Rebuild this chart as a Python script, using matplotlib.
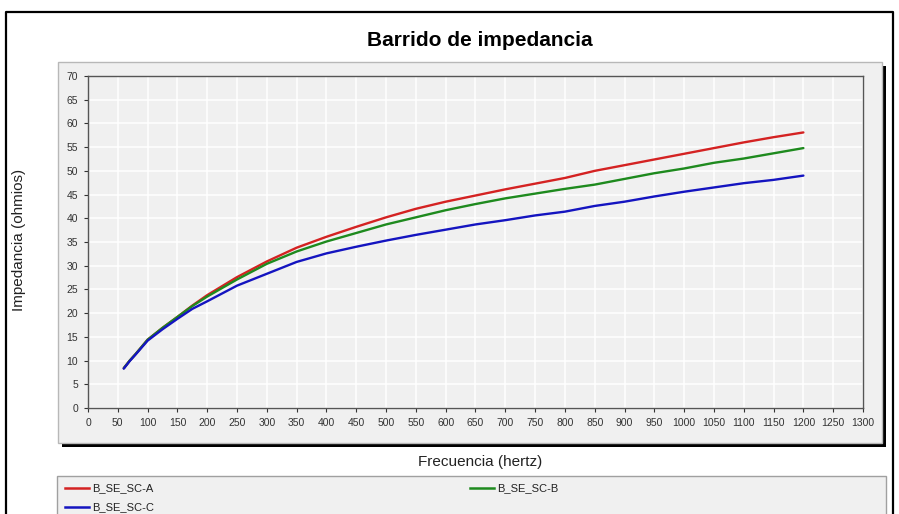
import matplotlib
matplotlib.use("Agg")
import matplotlib.pyplot as plt
from matplotlib.patches import Rectangle
from matplotlib.lines import Line2D

W, H = 899, 514

# Frequency sweep (Hz) and impedance (ohm) per phase
freq = [60, 70, 80, 100, 125, 150, 175, 200, 250, 300, 350, 400, 450, 500, 550, 600,
        650, 700, 750, 800, 850, 900, 950, 1000, 1050, 1100, 1150, 1200]
z_a = [8.4, 10.0, 11.4, 14.4, 16.9, 19.2, 21.6, 23.8, 27.6, 30.9, 33.8, 36.1, 38.2,
       40.2, 42.0, 43.5, 44.8, 46.1, 47.3, 48.5, 50.0, 51.2, 52.4, 53.6, 54.8,
       56.0, 57.1, 58.1]
z_b = [8.4, 10.0, 11.4, 14.4, 16.9, 19.2, 21.5, 23.5, 27.1, 30.4, 33.0, 35.1, 36.9,
       38.7, 40.2, 41.7, 43.0, 44.2, 45.2, 46.2, 47.1, 48.3, 49.5, 50.5, 51.7,
       52.6, 53.7, 54.8]
z_c = [8.3, 9.9, 11.3, 14.2, 16.6, 18.8, 20.9, 22.5, 25.8, 28.3, 30.8, 32.6, 34.0,
       35.3, 36.5, 37.6, 38.7, 39.6, 40.6, 41.4, 42.6, 43.5, 44.6, 45.6, 46.5,
       47.4, 48.1, 49.0]

series_names = ["B_SE_SC-A", "B_SE_SC-B", "B_SE_SC-C"]
series_colors = ["#d42222", "#1e8a1e", "#1414c0"]

x_ticks = list(range(0, 1301, 50))
y_ticks = list(range(0, 71, 5))

PANEL = "#f0f0f0"
NARROW = ["Liberation Sans Narrow", "Liberation Sans", "DejaVu Sans"]
SANS = ["Liberation Sans", "DejaVu Sans"]


def px(x, y):
    """pixel (from top-left) -> figure fraction"""
    return x / W, 1 - y / H


fig = plt.figure(figsize=(W / 100, H / 100), dpi=100, facecolor="white")

# outer frame
x0, y0 = px(6, 12)
x1, y1 = px(893, 520)
fig.add_artist(Line2D([x0, x0, x1, x1], [y1, y0, y0, y1], color="black", lw=1.6,
                      transform=fig.transFigure, zorder=-2))

# inner panel with dark shadow
sx, sy = px(62, 447)
fig.add_artist(Rectangle((sx, sy), (886 - 62) / W, (447 - 66) / H,
                         transform=fig.transFigure, facecolor="black",
                         edgecolor="none", zorder=-2))
px0, py0 = px(58, 443)
fig.add_artist(Rectangle((px0, py0), (882 - 58) / W, (443 - 62) / H,
                         transform=fig.transFigure, facecolor=PANEL,
                         edgecolor="#b8b8b8", lw=1.0, zorder=-1))

# legend box
lx, ly = px(57, 530)
fig.add_artist(Rectangle((lx, ly), (886 - 57) / W, (530 - 476) / H,
                         transform=fig.transFigure, facecolor=PANEL,
                         edgecolor="#a0a0a0", lw=1.0, zorder=-1))

# plot area
ax = fig.add_axes([88 / W, 1 - 408 / H, (863 - 88) / W, (408 - 76) / H])
ax.set_zorder(5)
ax.set_facecolor(PANEL)
for y, name, color in zip([z_a, z_b, z_c], series_names, series_colors):
    ax.plot(freq, y, color=color, lw=1.7, solid_capstyle="round", zorder=3)

ax.set_xlim(0, 1300)
ax.set_ylim(0, 70)
ax.set_xticks(x_ticks)
ax.set_yticks(y_ticks)
ax.grid(True, color="white", lw=1.1)
ax.set_axisbelow(True)
for s in ax.spines.values():
    s.set_color("#555555")
    s.set_linewidth(1.0)
ax.tick_params(direction="out", length=3, width=0.8, color="#333333",
               labelcolor="#333333", labelsize=7.5, pad=4)
for lab in ax.get_xticklabels() + ax.get_yticklabels():
    lab.set_family(NARROW)

# texts
fig.text(*px(480, 40), "Barrido de impedancia", ha="center", va="center",
         fontsize=15, fontweight="bold", family=NARROW)
fig.text(*px(480, 462), "Frecuencia (hertz)", ha="center", va="center",
         fontsize=11, family=SANS, color="#222222")
fig.text(*px(19, 240), "Impedancia (ohmios)", ha="center", va="center",
         rotation=90, fontsize=11, family=SANS, color="#222222")

# legend entries: A and C in first column, B in second
legend_pos = [(65, 488), (470, 488), (65, 507)]
for (lxp, lyp), name, color in zip(legend_pos, series_names, series_colors):
    a, b = px(lxp, lyp)
    c, _ = px(lxp + 24, lyp)
    fig.add_artist(Line2D([a, c], [b, b], color=color, lw=1.8, transform=fig.transFigure))
    fig.text(*px(lxp + 27, lyp), name, ha="left", va="center", fontsize=8,
             family=SANS, color="#222222")

fig.savefig("out.png", dpi=100, facecolor="white")
